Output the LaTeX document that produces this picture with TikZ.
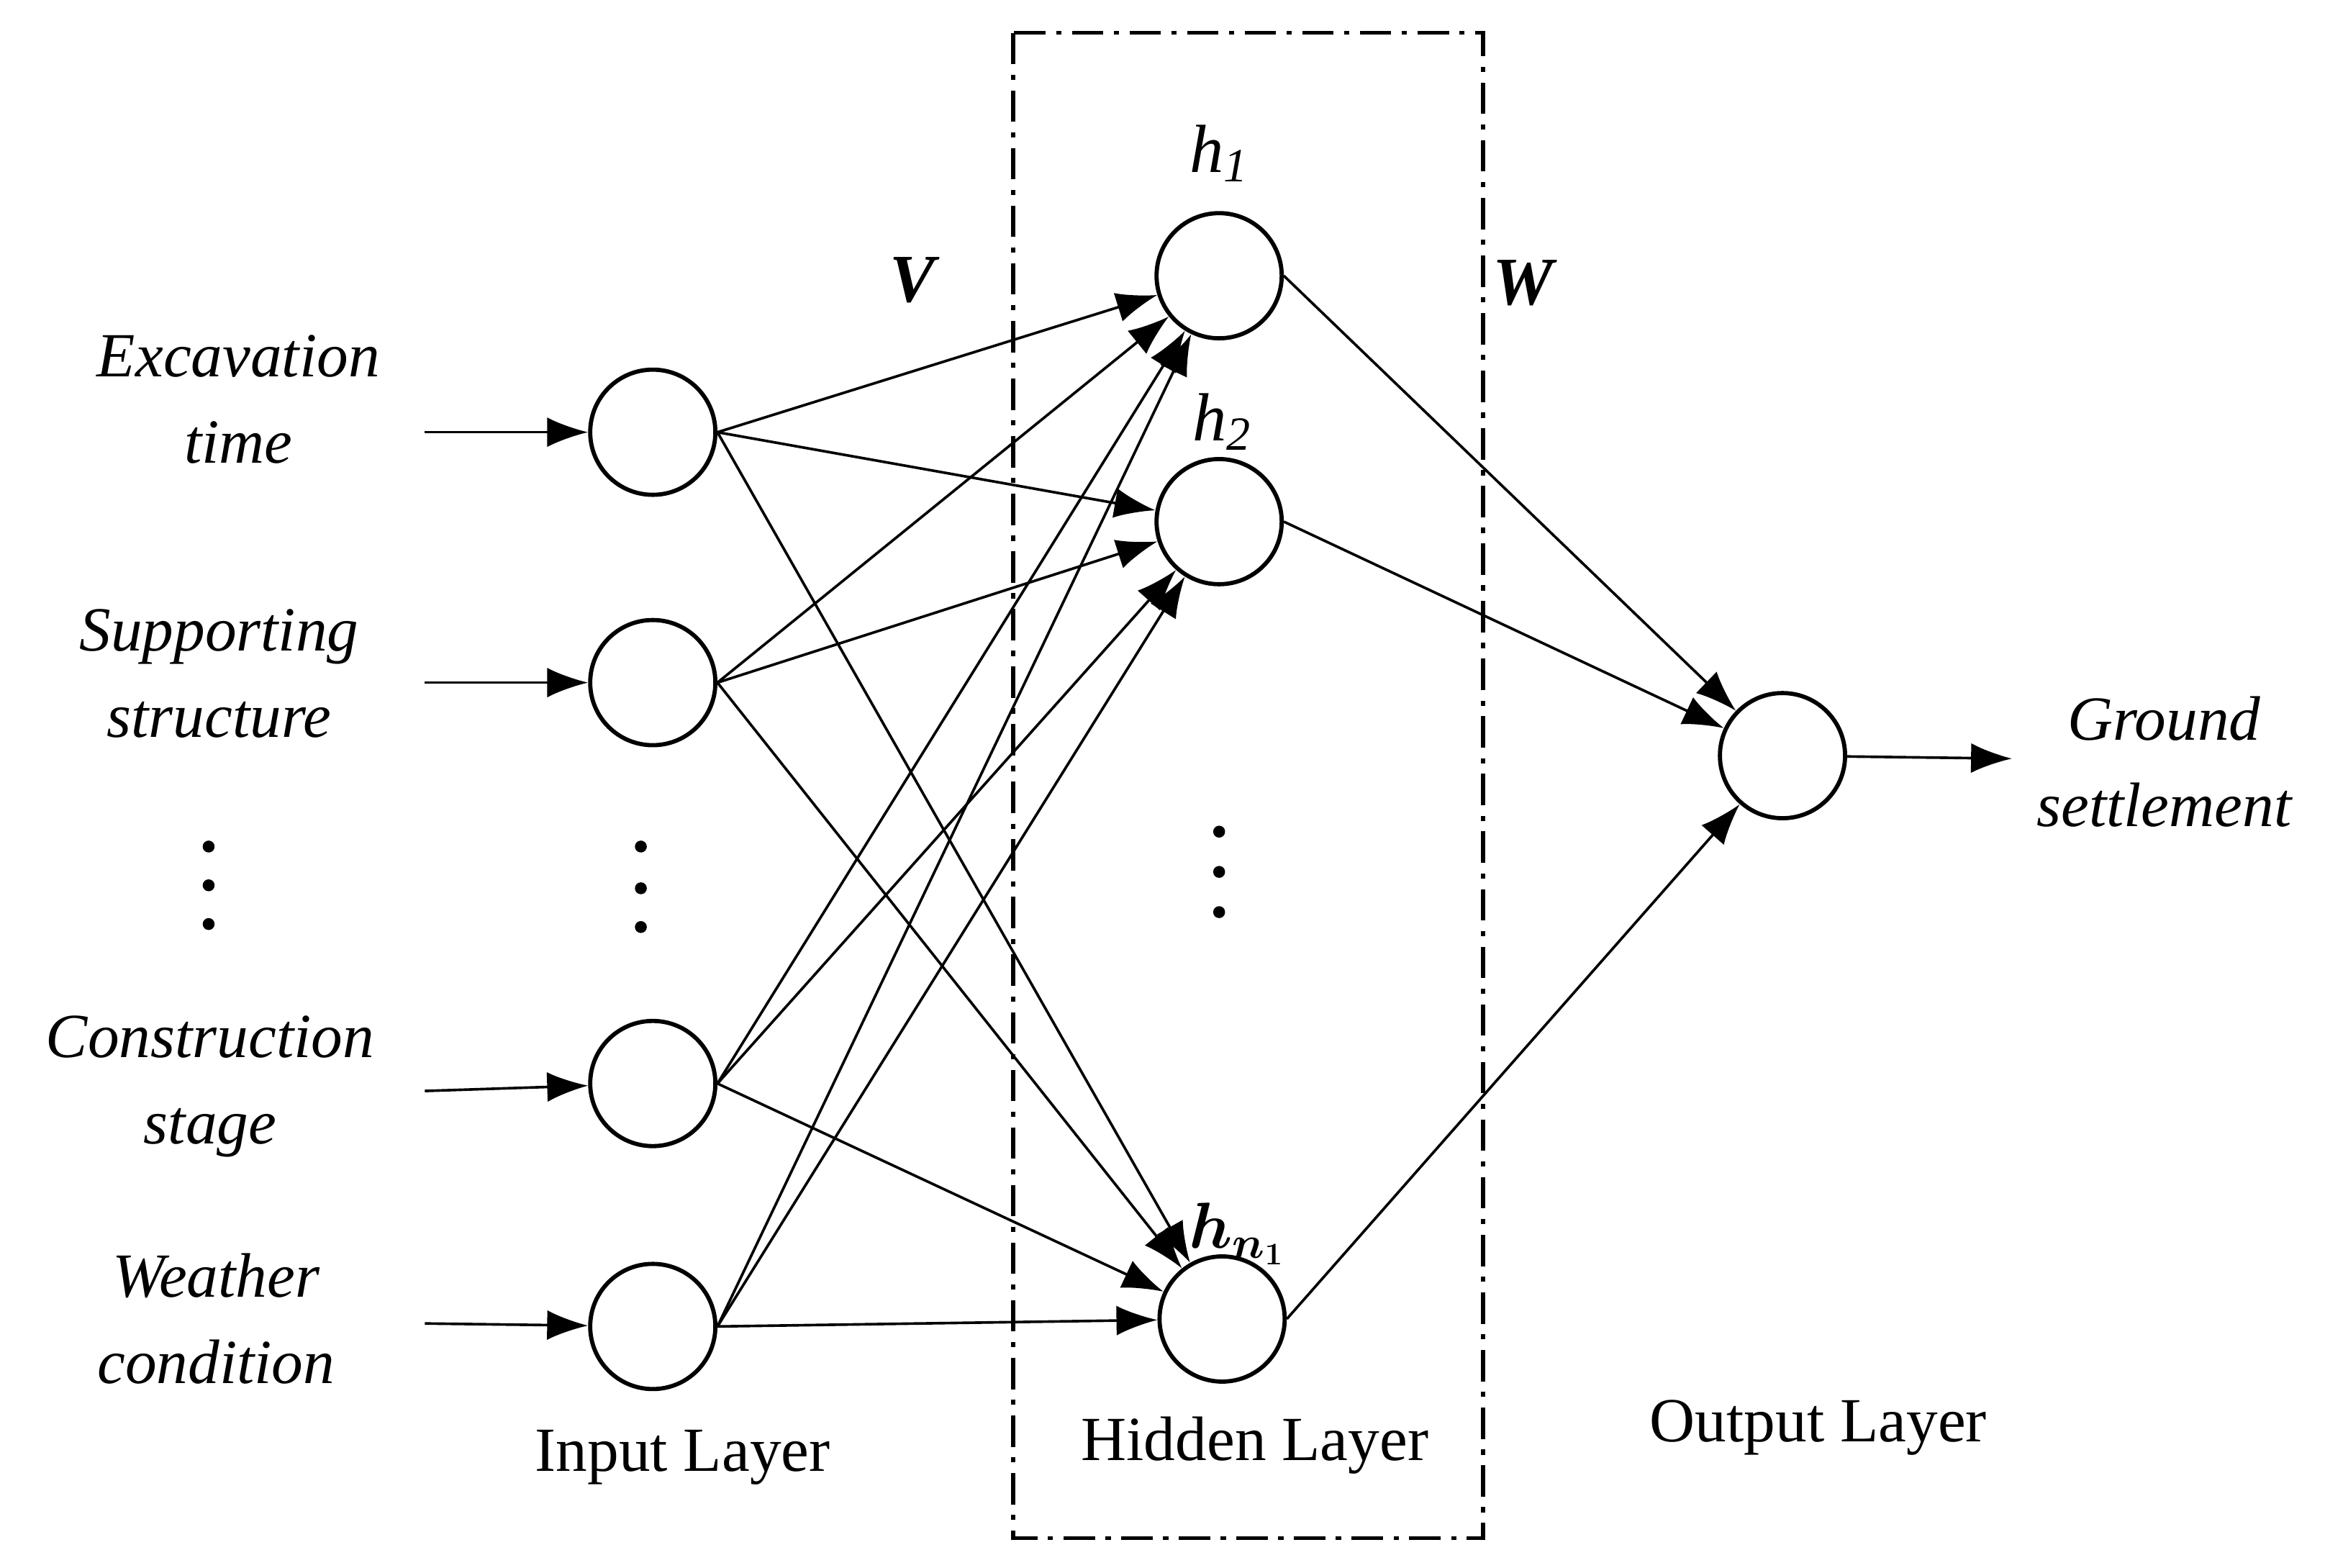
\documentclass[tikz,border=0pt]{standalone}
\usepackage{amsmath}
\usepackage{fontspec}
\setmainfont{Liberation Serif}
\usetikzlibrary{arrows.meta}
\begin{document}
\begin{tikzpicture}[x=0.02cm,y=-0.02cm,
  neuron/.style={circle,draw,line width=1.6pt,minimum size=1.68cm,inner sep=0pt},
  conn/.style={line width=1pt,-{Latex[length=0.55cm,width=0.4cm]}},
  lab/.style={font=\fontsize{24}{33}\selectfont\itshape,align=center},
  layer/.style={font=\fontsize{24}{28}\selectfont},
  dot/.style={circle,fill,inner sep=0pt,minimum size=0.16cm}]
\useasboundingbox (0,0) rectangle (1560,1052);
\node[neuron] (i1) at (438,290) {};
\node[neuron] (i2) at (438,458) {};
\node[neuron] (i3) at (438,727) {};
\node[neuron] (i4) at (438,890) {};
\node[neuron] (h1) at (818,185) {};
\node[neuron] (h2) at (818,350) {};
\node[neuron] (h3) at (820,885) {};
\node[neuron] (o) at (1196,507) {};
\foreach \y in {568,596,622}{\node[dot] at (430,\y) {};}
\foreach \y in {568,594,620}{\node[dot] at (140,\y) {};}
\foreach \y in {558,585,612}{\node[dot] at (818,\y) {};}
\node[lab] (t1) at (160,268) {Excavation\\time};
\node[lab] (t2) at (147,452) {Supporting\\structure};
\node[lab] (t3) at (141,729) {Construction\\stage};
\node[lab] (t4) at (145,885) {Weather\\condition};
\node[lab] (t5) at (1452,511) {Ground\\settlement};
\coordinate (s1) at (285,290);
\coordinate (s2) at (285,458);
\coordinate (s3) at (285,732);
\coordinate (s4) at (285,888);
\coordinate (e) at (1350,509);
\draw[conn] (s1) -- (i1);
\draw[conn] (s2) -- (i2);
\draw[conn] (s3) -- (i3);
\draw[conn] (s4) -- (i4);
\draw[conn] (o) -- (e);
\foreach \i in {i1,i2,i3,i4}{\foreach \h in {h1,h2,h3}{\draw[conn] (\i.east) -- (\h);}}
\foreach \h in {h1,h2,h3}{\draw[conn] (\h.east) -- (o);}
\draw[line width=1.6pt,dash pattern=on 12pt off 4pt on 2pt off 4pt] (680,22) rectangle (995,1032);
\node[font=\fontsize{26}{30}\selectfont\bfseries\itshape] (V) at (612,188) {V};
\node[font=\fontsize{26}{30}\selectfont\bfseries\itshape] (W) at (1022,190) {W};
\node[font=\fontsize{26}{30}\selectfont\itshape] (l1) at (818,103) {h\textsubscript{1}};
\node[font=\fontsize{26}{30}\selectfont\itshape] (l2) at (820,283) {h\textsubscript{2}};
\node[font=\fontsize{26}{30}\selectfont] (l3) at (830,828) {$\boldsymbol{h_{n_1}}$};
\node[layer] (L1) at (458,978) {Input Layer};
\node[layer] (L2) at (842,970) {Hidden Layer};
\node[layer] (L3) at (1220,958) {Output Layer};
\end{tikzpicture}
\end{document}
